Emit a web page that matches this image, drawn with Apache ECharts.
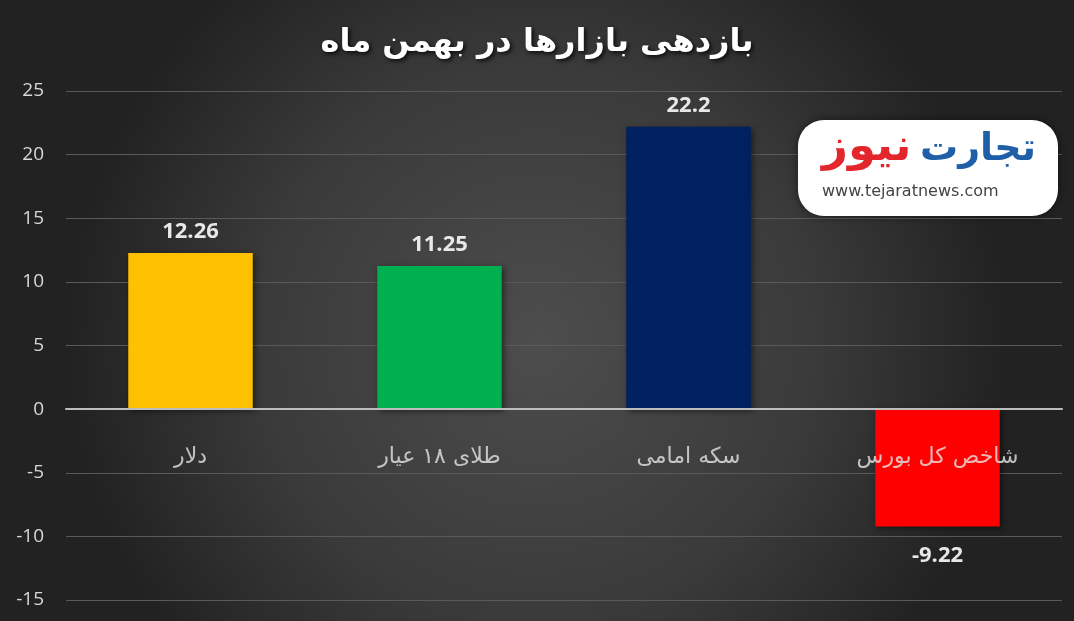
<!DOCTYPE html>
<html><head><meta charset="utf-8">
<script src="https://cdn.jsdelivr.net/npm/echarts@6/dist/echarts.min.js"></script>
<style>html,body{margin:0;padding:0;background:#2a2a2a}#c{width:1074px;height:621px}</style>
</head><body><div id="c"></div>
<script>
const categories = ['دلار', 'طلای ۱۸ عیار', 'سکه امامی', 'شاخص کل بورس'];
const values = [12.26, 11.25, 22.2, -9.22];
const valueLabels = ['12.26', '11.25', '22.2', '-9.22'];
const colors = ['#FFC000', '#00B050', '#002060', '#FF0000'];
const yTicks = { min: -15, max: 25, interval: 5 };

const chart = echarts.init(document.getElementById('c'));
const arab = '"DejaVu Sans", "Noto Sans", sans-serif';
chart.setOption({
  backgroundColor: {
    type: 'radial', x: 0.5, y: 0.55, r: 0.75,
    colorStops: [{ offset: 0, color: '#4d4d4d' }, { offset: 0.6, color: '#3a3a3a' }, { offset: 1, color: '#222222' }]
  },
  title: {
    text: 'بازدهی بازارها در بهمن ماه', left: 'center', top: 22,
    textStyle: { color: '#ffffff', fontSize: 32, fontWeight: 'bold', fontFamily: arab,
      textShadowColor: 'rgba(0,0,0,0.8)', textShadowBlur: 4, textShadowOffsetX: 2, textShadowOffsetY: 2 }
  },
  grid: { left: 66, right: 12, top: 91, bottom: 21, containLabel: false, outerBoundsMode: 'none' },
  xAxis: {
    type: 'category', data: categories,
    axisLine: { onZero: true, lineStyle: { color: '#bdbdbd', width: 2 } },
    axisTick: { show: false },
    axisLabel: { show: false },
    z: 10
  },
  yAxis: {
    type: 'value', min: yTicks.min, max: yTicks.max, interval: yTicks.interval,
    axisLine: { show: false }, axisTick: { show: false },
    axisLabel: { color: '#d8d8d8', fontSize: 19, fontFamily: '"Open Sans", sans-serif', margin: 22 },
    splitLine: { lineStyle: { color: '#5a5a5a', width: 1 } }
  },
  series: [{
    type: 'bar', barWidth: '50%',
    data: values.map((v, i) => ({ value: v, itemStyle: { color: colors[i] },
      label: { distance: v < 0 ? 18 : 10 } })),
    itemStyle: { shadowColor: 'rgba(0,0,0,0.5)', shadowBlur: 6, shadowOffsetX: 2, shadowOffsetY: 2 },
    label: {
      show: true, position: 'outside',
      formatter: p => valueLabels[p.dataIndex],
      color: '#e8e8e8', fontSize: 22, fontWeight: 'bold', fontFamily: '"Open Sans", sans-serif'
    }
  }, {
    type: 'scatter', symbolSize: 0, silent: true, z: 20,
    data: categories.map(c => [c, 0]),
    label: {
      show: true, position: 'bottom', distance: 37,
      formatter: p => p.value[0],
      color: '#e6e6e6', fontSize: 22, fontFamily: arab
    }
  }],
  graphic: [
    { type: 'rect', left: 798, top: 120, shape: { width: 260, height: 96, r: 26 },
      style: { fill: '#ffffff', shadowColor: 'rgba(0,0,0,0.5)', shadowBlur: 8 }, z: 100 },
    { type: 'text', left: 920, top: 131, style: { text: 'تجارت', fill: '#1f5fa8', font: 'bold 38px "DejaVu Sans"' }, z: 101 },
    { type: 'text', left: 822, top: 126, style: { text: 'نیوز', fill: '#e3262c', font: 'bold 45px "DejaVu Sans"' }, z: 101 },
    { type: 'text', left: 822, top: 184, style: { text: 'www.tejaratnews.com', fill: '#444444', font: '16px "DejaVu Sans"', letterSpacing: 2 }, z: 101 }
  ]
});
</script></body></html>
